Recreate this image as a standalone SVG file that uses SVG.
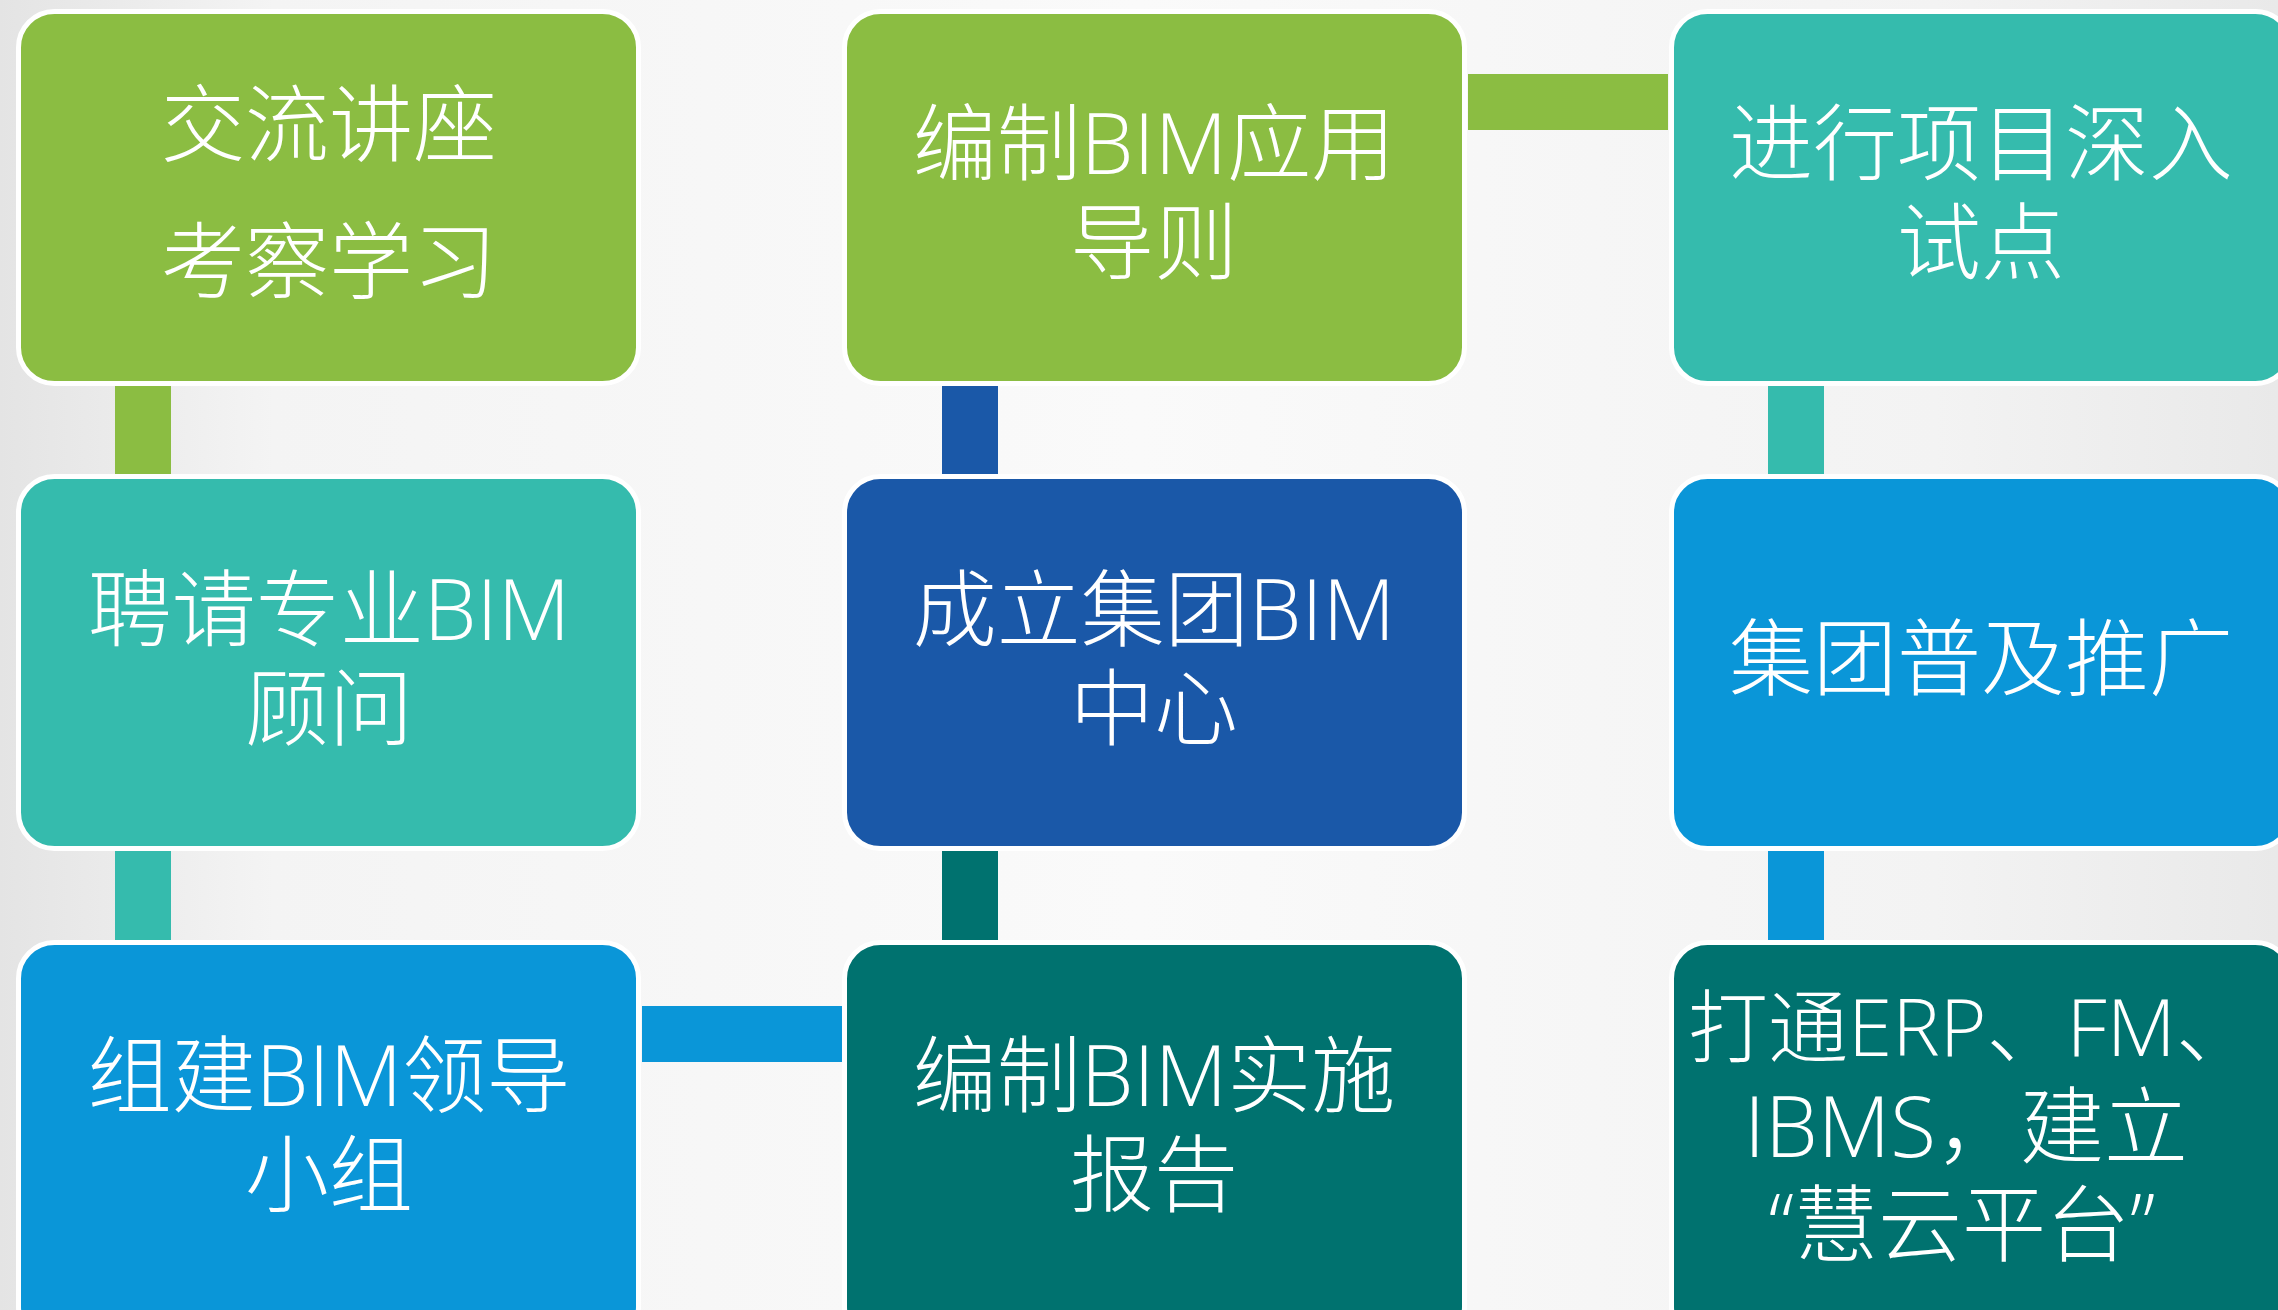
<svg xmlns="http://www.w3.org/2000/svg" width="2278" height="1310" viewBox="0 0 2278 1310">
<defs>
<linearGradient id="bg" x1="0" y1="0" x2="1" y2="0">
<stop offset="0" stop-color="#E4E4E4"/>
<stop offset="0.12" stop-color="#F4F4F4"/>
<stop offset="0.5" stop-color="#FAFAFA"/>
<stop offset="0.85" stop-color="#F3F3F3"/>
<stop offset="1" stop-color="#E9E9E9"/>
</linearGradient>
</defs>
<style>
.box{stroke:#FFFFFF;stroke-width:5}
.green{fill:#8BBD42}
.teal{fill:#35BBAD}
.dblue{fill:#1A58A8}
.blue{fill:#0A96D8}
.dteal{fill:#00726F}
.t{font-family:"Open Sans","Noto Sans CJK SC",sans-serif;font-weight:300;font-size:84px;fill:#FFFFFF;text-anchor:middle}
.s{font-size:80px}
</style>
<rect x="0" y="0" width="2278" height="1310" fill="url(#bg)"/>
<g id="connectors">
<rect class="green" x="115" y="386" width="56" height="90"/>
<rect class="teal" x="115" y="851" width="56" height="92"/>
<rect class="dblue" x="942" y="386" width="56" height="90"/>
<rect class="dteal" x="942" y="851" width="56" height="92"/>
<rect class="teal" x="1768" y="386" width="56" height="90"/>
<rect class="blue" x="1768" y="851" width="56" height="92"/>
<rect class="green" x="1468" y="74" width="200" height="56"/>
<rect class="blue" x="642" y="1006" width="200" height="56"/>
</g>
<g id="n1">
<rect class="box green" x="18.5" y="11.5" width="620" height="372" rx="36"/>
<text class="t" x="329" y="155">交流讲座</text>
<text class="t" x="329" y="292">考察学习</text>
</g>
<g id="n2">
<rect class="box green" x="844.5" y="11.5" width="620" height="372" rx="36"/>
<text class="t" x="1154" y="174">编制BIM应用</text>
<text class="t" x="1154" y="273">导则</text>
</g>
<g id="n3">
<rect class="box teal" x="1671.5" y="11.5" width="620" height="372" rx="36"/>
<text class="t" x="1981" y="174">进行项目深入</text>
<text class="t" x="1981" y="273">试点</text>
</g>
<g id="n4">
<rect class="box teal" x="18.5" y="476.5" width="620" height="372" rx="36"/>
<text class="t" x="329" y="640">聘请专业BIM</text>
<text class="t" x="329" y="739">顾问</text>
</g>
<g id="n5">
<rect class="box dblue" x="844.5" y="476.5" width="620" height="372" rx="36"/>
<text class="t" x="1154" y="640">成立集团BIM</text>
<text class="t" x="1154" y="739">中心</text>
</g>
<g id="n6">
<rect class="box blue" x="1671.5" y="476.5" width="620" height="372" rx="36"/>
<text class="t" x="1981" y="689">集团普及推广</text>
</g>
<g id="n7">
<rect class="box blue" x="18.5" y="942.5" width="620" height="400" rx="36"/>
<text class="t" x="329" y="1106">组建BIM领导</text>
<text class="t" x="329" y="1205">小组</text>
</g>
<g id="n8">
<rect class="box dteal" x="844.5" y="942.5" width="620" height="400" rx="36"/>
<text class="t" x="1154" y="1106">编制BIM实施</text>
<text class="t" x="1154" y="1205">报告</text>
</g>
<g id="n9">
<rect class="box dteal" x="1671.5" y="942.5" width="620" height="400" rx="36"/>
<text class="t s" x="1972" y="1056">打通ERP、FM、</text>
<text class="t" x="1966" y="1157">IBMS，建立</text>
<text class="t" x="1962" y="1255">“慧云平台”</text>
</g>
</svg>
